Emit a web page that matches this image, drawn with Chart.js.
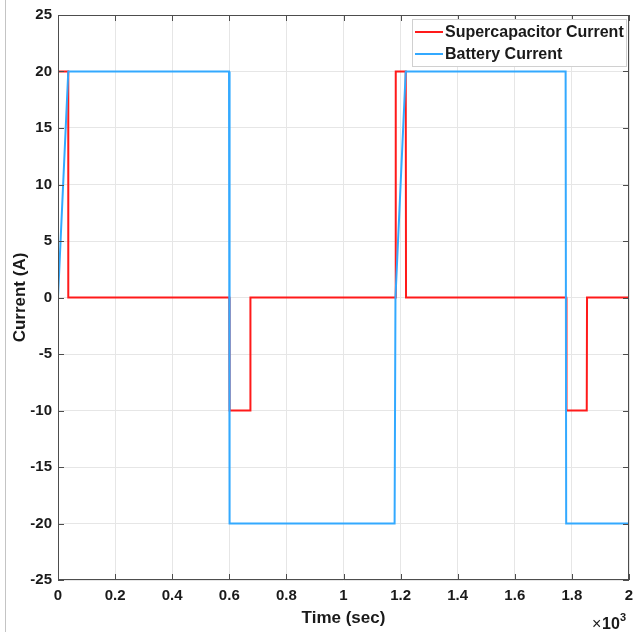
<!DOCTYPE html>
<html>
<head>
<meta charset="utf-8">
<script src="https://cdn.jsdelivr.net/npm/chart.js@4/dist/chart.umd.min.js"></script>
<style>
  html, body { margin: 0; padding: 0; background: #fff; }
  #wrap { position: relative; width: 633px; height: 632px; }
  #edge { position: absolute; left: 5px; top: 0; width: 1px; height: 632px; background: #c4c4c4; }
  canvas { display: block; }
</style>
</head>
<body>
<div id="wrap"><canvas id="c" width="633" height="632"></canvas><div id="edge"></div></div>
<script>
// Time in units of 10^3 s, current in A
const supercapTime    = [0, 0.036, 0.036, 0.600, 0.601, 0.674, 0.674, 1.182, 1.183, 1.218, 1.219, 1.780, 1.781, 1.852, 1.853, 2.0];
const supercapCurrent = [20, 20,   0,     0,     -10,   -10,   0,     0,     20,    20,    0,     0,     -10,   -10,   0,     0];

const batteryTime    = [0, 0.036, 0.599, 0.601, 1.179, 1.182, 1.218, 1.778, 1.780, 2.0];
const batteryCurrent = [0, 20,    20,    -20,   -20,   0,     20,    20,    -20,   -20];

const xTickLabels = ['0', '0.2', '0.4', '0.6', '0.8', '1', '1.2', '1.4', '1.6', '1.8', '2'];
const yTickLabels = ['-25', '-20', '-15', '-10', '-5', '0', '5', '10', '15', '20', '25'];

const seriesNames = ['Supercapacitor Current', 'Battery Current'];
const seriesColors = ['#ff1a1a', '#33a9ff'];

const toPoints = (xs, ys) => xs.map((x, i) => ({ x: x, y: ys[i] }));

const FAMILY = '"Liberation Sans", Arial, sans-serif';
const AXIS_COLOR = '#4d4d4d';
const TEXT_COLOR = '#1a1a1a';

// Frame, inward tick marks, legend and exponent label
const decorations = {
  id: 'decorations',
  afterDatasetsDraw(chart) {
    const { ctx, chartArea: a, scales: { x, y } } = chart;
    ctx.save();
    ctx.strokeStyle = AXIS_COLOR;
    ctx.lineWidth = 1;
    ctx.strokeRect(a.left + 0.5, a.top + 0.5, a.right - a.left - 1, a.bottom - a.top - 1);
    ctx.beginPath();
    x.ticks.forEach(t => {
      const px = Math.round(x.getPixelForValue(t.value)) + 0.5;
      ctx.moveTo(px, a.bottom); ctx.lineTo(px, a.bottom - 6);
      ctx.moveTo(px, a.top); ctx.lineTo(px, a.top + 6);
    });
    y.ticks.forEach(t => {
      const py = Math.round(y.getPixelForValue(t.value)) + 0.5;
      ctx.moveTo(a.left, py); ctx.lineTo(a.left + 6, py);
      ctx.moveTo(a.right, py); ctx.lineTo(a.right - 6, py);
    });
    ctx.stroke();

    // legend box
    const lx = 412, ly = 19, lw = 214, lh = 47;
    ctx.fillStyle = '#ffffff';
    ctx.fillRect(lx, ly, lw, lh);
    ctx.strokeStyle = '#d0d0d0';
    ctx.strokeRect(lx + 0.5, ly + 0.5, lw, lh);
    ctx.font = 'bold 16px ' + FAMILY;
    ctx.textBaseline = 'middle';
    ctx.textAlign = 'left';
    chart.data.datasets.forEach((ds, i) => {
      const cy = ly + 13 + i * 22;
      ctx.strokeStyle = ds.borderColor;
      ctx.lineWidth = 2;
      ctx.beginPath();
      ctx.moveTo(lx + 3, cy); ctx.lineTo(lx + 31, cy);
      ctx.stroke();
      ctx.fillStyle = TEXT_COLOR;
      ctx.fillText(ds.label, lx + 33, cy + 1);
    });

    // ×10^3 exponent
    ctx.fillStyle = TEXT_COLOR;
    ctx.font = '16px ' + FAMILY;
    ctx.textBaseline = 'alphabetic';
    ctx.fillText('\u00d7', 592, 629);
    ctx.font = 'bold 16px ' + FAMILY;
    ctx.fillText('10', 602, 629);
    ctx.font = 'bold 11px ' + FAMILY;
    ctx.fillText('3', 620, 621);
    ctx.restore();
  }
};

new Chart(document.getElementById('c'), {
  type: 'scatter',
  data: {
    datasets: [
      {
        label: seriesNames[0],
        data: toPoints(supercapTime, supercapCurrent),
        borderColor: seriesColors[0],
        showLine: true, pointRadius: 0, borderWidth: 2, tension: 0, order: 2
      },
      {
        label: seriesNames[1],
        data: toPoints(batteryTime, batteryCurrent),
        borderColor: seriesColors[1],
        showLine: true, pointRadius: 0, borderWidth: 2, tension: 0, order: 1
      }
    ]
  },
  options: {
    responsive: false,
    animation: false,
    layout: { padding: { top: 15, right: 4, left: 0, bottom: 0 } },
    plugins: { legend: { display: false }, tooltip: { enabled: false } },
    scales: {
      x: {
        type: 'linear', min: 0, max: 2,
        ticks: {
          stepSize: 0.2, color: TEXT_COLOR, padding: 7,
          font: { family: FAMILY, size: 15, weight: 'bold' },
          callback: (v, i) => xTickLabels[i]
        },
        grid: { color: '#e6e6e6', drawTicks: false },
        border: { display: false },
        title: {
          display: true, text: 'Time (sec)', color: TEXT_COLOR, padding: { top: 0, bottom: 3 },
          font: { family: FAMILY, size: 17, weight: 'bold' }
        },
        afterFit: s => { s.height = 52; s.paddingLeft = 0; s.paddingRight = 0; }
      },
      y: {
        type: 'linear', min: -25, max: 25,
        ticks: {
          stepSize: 5, color: TEXT_COLOR, padding: 6,
          font: { family: FAMILY, size: 15, weight: 'bold' },
          callback: (v, i) => yTickLabels[i]
        },
        grid: { color: '#e6e6e6', drawTicks: false },
        border: { display: false },
        title: {
          display: true, text: 'Current (A)', color: TEXT_COLOR, padding: { top: 10, bottom: 0 },
          font: { family: FAMILY, size: 17, weight: 'bold' }
        },
        afterFit: s => { s.width = 58; s.paddingTop = 0; s.paddingBottom = 0; }
      }
    }
  },
  plugins: [decorations]
});
</script>
</body>
</html>
